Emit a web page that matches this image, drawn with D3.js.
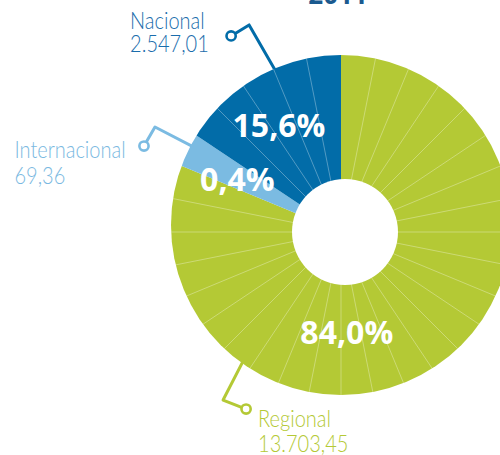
<!DOCTYPE html>
<html lang="es">
<head>
<meta charset="UTF-8">
<title>2011 donut</title>
<style>
  body { margin: 0; background: #fff; }
  svg text { font-family: "Lato", "Open Sans", sans-serif; }
</style>
<script src="https://d3js.org/d3.v7.min.js"></script>
</head>
<body>
<script>
// data
const categories = ["Regional", "Internacional", "Nacional"];
const amounts = ["13.703,45", "69,36", "2.547,01"];
const percents = ["84,0%", "0,4%", "15,6%"];
// the ring is drawn as 32 equal wedges, each category gets a number of them
const wedges = [26, 1, 5];
const title = "2011";

const colors = { Regional: "#b4c935", Internacional: "#7bbbe2", Nacional: "#026ca8" };
const textColors = { Regional: "#b4c935", Internacional: "#7ab9e1", Nacional: "#1a6dac" };

const width = 500, height = 455;
const cx = 341, cy = 232;          // where the wedges meet
const rim = { x: 341, y: 225, r: 170 };   // outer edge of the ring
const hole = { x: 345, y: 232, r: 53 };
const squeeze = 0.87;   // the original font is narrower than Lato

// label layout: angle in degrees clockwise from 12 o'clock
const pctPos = {
  Regional: { a: 176.7, r: 100.5 },
  Internacional: { a: 296.7, r: 116 },
  Nacional: { a: 329.9, r: 123.7 }
};
const callout = {
  Regional: { a: 217.6, r: 165.4, elbow: [-17, 37], dot: [23, 9], text: [12, 18], gap: 25 },
  Internacional: { a: 300.1, r: 173.4, elbow: [-36, -18], dot: [-11, 19], text: [-129.5, 12], gap: 26.3 },
  Nacional: { a: 338.3, r: 175.5, elbow: [-27, -44], dot: [-18, 11], text: [-101, -7], gap: 22.7 }
};

const rows = categories.map((c, i) => ({ name: c, amount: amounts[i], pct: percents[i], wedges: wedges[i] }));

const polar = (deg, r) => {
  const t = deg * Math.PI / 180;
  return [cx + r * Math.sin(t), cy - r * Math.cos(t)];
};

const svg = d3.select("body").append("svg")
  .attr("width", width)
  .attr("height", height);

svg.append("defs").append("clipPath").attr("id", "rim")
  .append("circle")
  .attr("cx", rim.x).attr("cy", rim.y).attr("r", rim.r);

const pie = d3.pie().value(d => d.wedges).sort(null);
const arcs = pie(rows);

// callout lines go under the ring
const calls = svg.append("g");
arcs.forEach(d => {
  const c = callout[d.data.name];
  const edge = polar(c.a, c.r);
  const start = polar(c.a, c.r - 10);
  const elbow = [edge[0] + c.elbow[0], edge[1] + c.elbow[1]];
  const dot = [elbow[0] + c.dot[0], elbow[1] + c.dot[1]];
  const col = colors[d.data.name];
  calls.append("path")
    .attr("d", d3.line()([start, elbow, dot]))
    .attr("fill", "none")
    .attr("stroke", col)
    .attr("stroke-width", 3)
    .attr("stroke-linejoin", "round");
  calls.append("circle")
    .attr("cx", dot[0]).attr("cy", dot[1]).attr("r", 4.6)
    .attr("fill", "#fff")
    .attr("stroke", col)
    .attr("stroke-width", 2.6);
  [d.data.name, d.data.amount].forEach((s, j) => {
    const t = calls.append("text")
      .attr("x", dot[0] + c.text[0])
      .attr("y", dot[1] + c.text[1] + j * c.gap)
      .attr("fill", textColors[d.data.name])
      .attr("font-weight", 300)
      .attr("font-size", 23)
      .text(s);
    const w = t.node().getComputedTextLength();
    t.attr("textLength", w * squeeze).attr("lengthAdjust", "spacingAndGlyphs");
  });
});

const ring = svg.append("g").attr("clip-path", "url(#rim)");
const arc = d3.arc().innerRadius(0).outerRadius(200);

ring.append("g")
  .attr("transform", `translate(${cx},${cy})`)
  .selectAll("path")
  .data(arcs)
  .join("path")
  .attr("d", arc)
  .attr("fill", d => colors[d.data.name]);

// thin lines between the wedges of one category
const lines = [];
arcs.forEach(d => {
  const step = (d.endAngle - d.startAngle) / d.data.wedges;
  for (let k = 1; k < d.data.wedges; k++) lines.push(d.startAngle + k * step);
});
ring.append("g")
  .selectAll("line")
  .data(lines)
  .join("line")
  .attr("x1", cx).attr("y1", cy)
  .attr("x2", a => cx + 200 * Math.sin(a))
  .attr("y2", a => cy - 200 * Math.cos(a))
  .attr("stroke", "#fff")
  .attr("stroke-opacity", 0.4)
  .attr("stroke-width", 0.8);

svg.append("circle")
  .attr("cx", hole.x).attr("cy", hole.y).attr("r", hole.r)
  .attr("fill", "#fff");

// percentages
svg.append("g")
  .selectAll("text")
  .data(arcs)
  .join("text")
  .attr("x", d => polar(pctPos[d.data.name].a, pctPos[d.data.name].r)[0])
  .attr("y", d => polar(pctPos[d.data.name].a, pctPos[d.data.name].r)[1])
  .attr("dy", "0.36em")
  .attr("text-anchor", "middle")
  .attr("fill", "#fff")
  .attr("font-weight", 700)
  .attr("font-size", 32)
  .style("font-family", "'Open Sans', sans-serif")
  .text(d => d.data.pct);

// title, mostly above the visible area
svg.append("text")
  .attr("x", 338)
  .attr("y", 4)
  .attr("text-anchor", "middle")
  .attr("fill", "#1b5a8f")
  .attr("font-weight", 700)
  .attr("font-size", 26)
  .style("font-family", "'Open Sans', sans-serif")
  .text(title);
</script>
</body>
</html>
